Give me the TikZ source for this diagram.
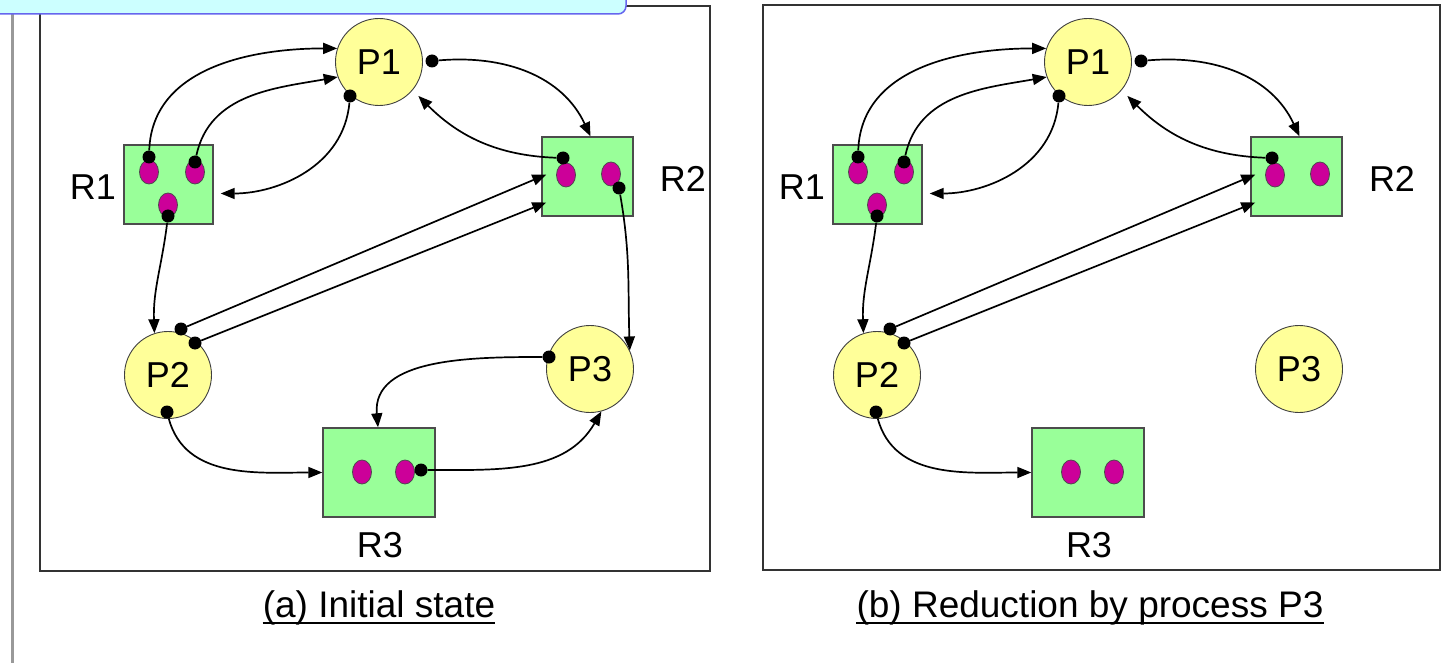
\documentclass[tikz,border=0pt]{standalone}
\usepackage{fontspec}
\setmainfont{Liberation Sans}
\usetikzlibrary{shapes.geometric,arrows.meta,calc}

\definecolor{procfill}{HTML}{FFFF99}
\definecolor{resfill}{HTML}{99FF99}
\definecolor{tokfill}{HTML}{CC0099}
\definecolor{bannerfill}{HTML}{CCFFFF}
\definecolor{bannerline}{HTML}{6666EE}

% Resource-allocation graph shared by both panels
\newcommand\sharedgraph{%
  % processes
  \node[proc] (P1) at (379,-62) {P1};
  \node[proc] (P2) at (168,-375) {P2};
  \node[proc] (P3) at (590,-369) {P3};
  % resources
  \node[res, minimum width=89pt, minimum height=79pt] (R1) at (168.5,-184.5) {};
  \node[res, minimum width=91pt, minimum height=79pt] (R2) at (587.5,-176.5) {};
  \node[res, minimum width=112pt, minimum height=89pt] (R3) at (379,-472.5) {};
  \node[lbl] (L1) at (93,-187) {R1};
  \node[lbl] (L2) at (683,-179) {R2};
  \node[lbl] (L3) at (380,-545) {R3};
  % resource instances
  \node[tok] (R1a) at (149,-172) {};
  \node[tok] (R1b) at (195,-172) {};
  \node[tok] (R1c) at (168,-205) {};
  \node[tok] (R2a) at (566,-175) {};
  \node[tok] (R2b) at (611,-174) {};
  \node[tok] (R3a) at (362,-472) {};
  \node[tok] (R3b) at (405,-472) {};
  % edge end points
  \node[dotn] (d1) at (149,-157) {};
  \node[dotn] (d2) at (195,-162) {};
  \node[dotn] (d3) at (168,-216) {};
  \node[dotn] (d4) at (350,-96) {};
  \node[dotn] (d5) at (432,-61) {};
  \node[dotn] (d6) at (563,-158) {};
  \node[dotn] (d7) at (181,-329) {};
  \node[dotn] (d8) at (195,-343) {};
  \node[dotn] (d9) at (167,-412) {};
  % assignment and request edges
  \draw[conn] (d1) to[out=88,in=180] (P1.162);
  \draw[conn] (d2) to[out=78,in=190] (P1.200);
  \draw[conn, shorten >=7pt] (d4) to[out=-95,in=0] ([yshift=-9pt]R1.east);
  \draw[conn] (d5) to[out=5,in=115] ([xshift=3pt]R2.north);
  \draw[conn, shorten >=8pt] (d6) to[out=178,in=-45] (P1.-40);
  \draw[conn] (d3) to[out=-97,in=92] (P2.108);
  \draw[conn] (d7) -- ([xshift=5pt,yshift=2pt]R2.west);
  \draw[conn] (d8) -- ([xshift=5pt,yshift=-26pt]R2.west);
  \draw[conn] (d9) to[out=-75,in=180] (R3.west);
}

\tikzset{
  proc/.style={circle, draw=black!75, line width=0.9pt, fill=procfill,
    minimum size=87pt, inner sep=0pt, font=\fontsize{36}{40}\selectfont},
  res/.style={rectangle, draw=black!70, line width=1.4pt, fill=resfill, inner sep=0pt},
  tok/.style={ellipse, draw=black!70, line width=0.8pt, fill=tokfill,
    minimum width=19pt, minimum height=24pt, inner sep=0pt},
  dotn/.style={circle, fill=black, minimum size=13pt, inner sep=0pt},
  lbl/.style={inner sep=0pt, font=\fontsize{36}{40}\selectfont},
  conn/.style={-{Triangle[length=14pt,width=11pt]}, line width=1.7pt},
  caption/.style={inner sep=0pt, font=\fontsize{37}{42}\selectfont},
  panel/.style={draw=black!80, line width=1.6pt},
}

\begin{document}
\begin{tikzpicture}[x=1pt,y=1pt]
  \useasboundingbox (0,0) rectangle (1451,-663);
  \fill[white] (0,0) rectangle (1451,-663);

  % frame rule on the left
  \draw[black!40, line width=3pt] (12,-12) -- (12,-663);

  % panel frames
  \draw[panel] (40,-6) rectangle (710,-571);
  \draw[panel] (763,-5) rectangle (1440,-570);

  % title banner along the top
  \draw[bannerline, fill=bannerfill, line width=1.5pt, rounded corners=8pt]
    (-20,30) rectangle (626,-14);

  % (a) initial state
  \begin{scope}[name prefix=a-]
    \sharedgraph
    \node[dotn] (d10) at (619,-188) {};
    \node[dotn] (d11) at (549,-357) {};
    \node[dotn] (d12) at (421,-470) {};
    \draw[conn] (d10) to[out=-80,in=92] (P3.25);
    \draw[conn] (d11) to[out=180,in=95] ([xshift=-1pt]R3.north);
    \draw[conn] (d12) to[out=0,in=-120] (P3.-75);
  \end{scope}

  % (b) after reduction by P3
  \begin{scope}[name prefix=b-, xshift=709pt]
    \sharedgraph
  \end{scope}

  % captions
  \node[caption, anchor=base] (capA) at (379,-617) {(a) Initial state};
  \draw[line width=2.5pt] ([yshift=-6pt]capA.base west) -- ([yshift=-6pt]capA.base east);
  \node[caption, anchor=base] (capB) at (1090,-617) {(b) Reduction by process P3};
  \draw[line width=2.5pt] ([yshift=-6pt]capB.base west) -- ([yshift=-6pt]capB.base east);
\end{tikzpicture}
\end{document}
